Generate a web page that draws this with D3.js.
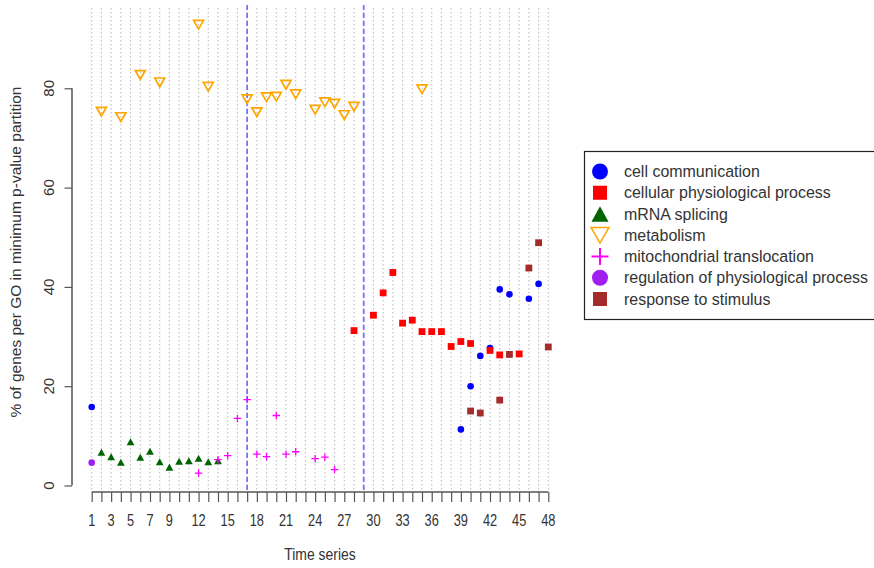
<!DOCTYPE html>
<html>
<head>
<meta charset="utf-8">
<script src="https://cdn.jsdelivr.net/npm/d3@7"></script>
<style>
  html, body { margin: 0; padding: 0; background: #fff; }
  svg text { font-family: "Liberation Sans", Arial, sans-serif; fill: #333; }
</style>
</head>
<body>
<svg id="chart" width="874" height="568"></svg>
<script>
// Time-series indices and GO categories
const timePoints = d3.range(1, 49);
const tickLabels = [1, 3, 5, 7, 9, 12, 15, 18, 21, 24, 27, 30, 33, 36, 39, 42, 45, 48];
const yTicks = [0, 20, 40, 60, 80];
const partitionBreaks = [17, 29];

const categories = [
  "cell communication",
  "cellular physiological process",
  "mRNA splicing",
  "metabolism",
  "mitochondrial translocation",
  "regulation of physiological process",
  "response to stimulus"
];

// Per-category time points and % of genes
const cellCommX = [1, 39, 40, 41, 42, 43, 44, 46, 47];
const cellCommY = [15.8, 11.3, 20.0, 26.1, 27.7, 39.5, 38.5, 37.6, 40.6];

const cellularX = [28, 30, 31, 32, 33, 34, 35, 36, 37, 38, 39, 40, 42, 43, 45];
const cellularY = [31.2, 34.3, 38.8, 42.9, 32.7, 33.3, 31.0, 31.0, 31.0, 28.0, 29.0, 28.6, 27.2, 26.3, 26.5];

const splicingX = [2, 3, 4, 5, 6, 7, 8, 9, 10, 11, 12, 13, 14];
const splicingY = [6.7, 5.8, 4.7, 8.8, 5.7, 6.9, 4.8, 3.7, 4.9, 5.0, 5.5, 4.8, 5.0];

const metabolismX = [2, 4, 6, 8, 12, 13, 17, 18, 19, 20, 21, 22, 24, 25, 26, 27, 28, 35];
const metabolismY = [75.3, 74.2, 82.7, 81.2, 92.8, 80.3, 77.8, 75.2, 78.2, 78.3, 80.7, 78.8, 75.7, 77.2, 76.9, 74.6, 76.3, 79.8];

const mitoX = [12, 14, 15, 16, 17, 18, 19, 20, 21, 22, 24, 25, 26];
const mitoY = [2.5, 5.2, 6.0, 13.5, 17.3, 6.3, 5.8, 14.1, 6.3, 6.8, 5.4, 5.7, 3.2];

const regulationX = [1];
const regulationY = [4.6];

const responseX = [40, 41, 43, 44, 46, 47, 48];
const responseY = [15.0, 14.6, 17.2, 26.4, 43.8, 48.9, 27.9];

const colors = ["#0000ff", "#ff0000", "#006400", "#ffa500", "#ff00ff", "#a020f0", "#a52a2a"];
const shapes = ["circle", "square", "triangle", "invtriangle", "plus", "circle", "square"];

const seriesX = [cellCommX, cellularX, splicingX, metabolismX, mitoX, regulationX, responseX];
const seriesY = [cellCommY, cellularY, splicingY, metabolismY, mitoY, regulationY, responseY];

const series = categories.map((name, i) => ({
  name, color: colors[i], shape: shapes[i],
  points: seriesX[i].map((x, j) => ({ x, y: seriesY[i][j] }))
}));

const svg = d3.select("#chart");

const x = d3.scaleLinear().domain([1, 48]).range([91.7, 548.3]);
const y = d3.scaleLinear().domain([0, 80]).range([485.5, 88.3]);

// vertical dotted guides at every time point
svg.append("g").selectAll("line").data(timePoints).join("line")
  .attr("x1", d => x(d)).attr("x2", d => x(d))
  .attr("y1", 8).attr("y2", 492)
  .attr("stroke", "#b8b8b8").attr("stroke-width", 1)
  .attr("stroke-dasharray", "1.5,2.5");

// partition boundaries
svg.append("g").selectAll("line").data(partitionBreaks).join("line")
  .attr("x1", d => x(d)).attr("x2", d => x(d))
  .attr("y1", 5).attr("y2", 492)
  .attr("stroke", "#7474ff").attr("stroke-width", 1.8)
  .attr("stroke-dasharray", "5,3");

// x axis
const xAxis = svg.append("g").attr("transform", "translate(0,492)")
  .call(d3.axisBottom(x).tickValues(timePoints).tickSize(10).tickFormat(""));
xAxis.select(".domain").attr("stroke", "#555").attr("stroke-width", 1.5).attr("d", `M${x(1)},0H${x(48)}`);
xAxis.selectAll(".tick line").attr("stroke", "#555").attr("stroke-width", 1.2);

svg.append("g").selectAll("text").data(tickLabels).join("text")
  .attr("transform", d => `translate(${x(d)},526) scale(0.8,1)`)
  .attr("text-anchor", "middle").style("font-size", "16px")
  .text(d => d);

// y axis
const yAxis = svg.append("g").attr("transform", "translate(72,0)")
  .call(d3.axisLeft(y).tickValues(yTicks).tickSize(7.5).tickFormat(""));
yAxis.select(".domain").attr("stroke", "#555").attr("stroke-width", 1.5).attr("d", `M0,${y(0)}V${y(80)}`);
yAxis.selectAll(".tick line").attr("stroke", "#555").attr("stroke-width", 1.2);

svg.append("g").selectAll("text").data(yTicks).join("text")
  .attr("transform", d => `translate(53.5,${y(d)}) rotate(-90)`)
  .attr("text-anchor", "middle").style("font-size", "15px")
  .text(d => d);

// axis titles
svg.append("text")
  .attr("transform", "translate(320,560) scale(0.82,1)")
  .attr("text-anchor", "middle").style("font-size", "17px")
  .text("Time series");

svg.append("text")
  .attr("transform", "translate(20.5,252) rotate(-90)")
  .attr("text-anchor", "middle").style("font-size", "15.5px")
  .text("% of genes per GO in minimum p-value partition");

// marker drawing
function drawMarker(sel, shape, color, s) {
  if (shape === "circle") {
    sel.append("circle").attr("r", s / 2).attr("fill", color);
  } else if (shape === "square") {
    sel.append("rect").attr("x", -s / 2).attr("y", -s / 2)
      .attr("width", s).attr("height", s).attr("fill", color);
  } else if (shape === "triangle") {
    const h = s * 0.9;
    sel.append("path").attr("d", `M0,${-h / 2}L${s / 2},${h / 2}L${-s / 2},${h / 2}Z`).attr("fill", color);
  } else if (shape === "invtriangle") {
    const h = s * 0.87;
    sel.append("path").attr("d", `M${-s / 2},${-h / 2}L${s / 2},${-h / 2}L0,${h / 2}Z`)
      .attr("fill", "none").attr("stroke", color).attr("stroke-width", s > 12 ? 1.5 : 1.7);
  } else if (shape === "plus") {
    sel.append("path").attr("d", `M${-s / 2},0H${s / 2}M0,${-s / 2}V${s / 2}`)
      .attr("stroke", color).attr("stroke-width", s > 12 ? 2 : 1.3).attr("fill", "none");
  }
}

const plotSizes = { circle: 6.6, square: 6.8, triangle: 7.8, invtriangle: 10, plus: 7.5 };

series.forEach(sr => {
  const g = svg.append("g");
  g.selectAll("g").data(sr.points).join("g")
    .attr("transform", d => `translate(${x(d.x)},${y(d.y)})`)
    .each(function () { drawMarker(d3.select(this), sr.shape, sr.color, plotSizes[sr.shape]); });
});

// legend
const legend = svg.append("g");
legend.append("rect")
  .attr("x", 584.5).attr("y", 151.5).attr("width", 300).attr("height", 168)
  .attr("fill", "#fff").attr("stroke", "#222").attr("stroke-width", 1.2);

const legendSizes = { circle: 16, square: 14, triangle: 17, invtriangle: 18, plus: 17 };
const rows = legend.selectAll("g.row").data(series).join("g")
  .attr("class", "row")
  .attr("transform", (d, i) => `translate(0,${171.5 + i * 21.25})`);
rows.each(function (d) {
  const m = d3.select(this).append("g").attr("transform", "translate(600,0)");
  drawMarker(m, d.shape, d.color, legendSizes[d.shape]);
});
rows.append("text")
  .attr("transform", "translate(624,5.5) scale(0.94,1)")
  .style("font-size", "17px")
  .text(d => d.name);
</script>
</body>
</html>
